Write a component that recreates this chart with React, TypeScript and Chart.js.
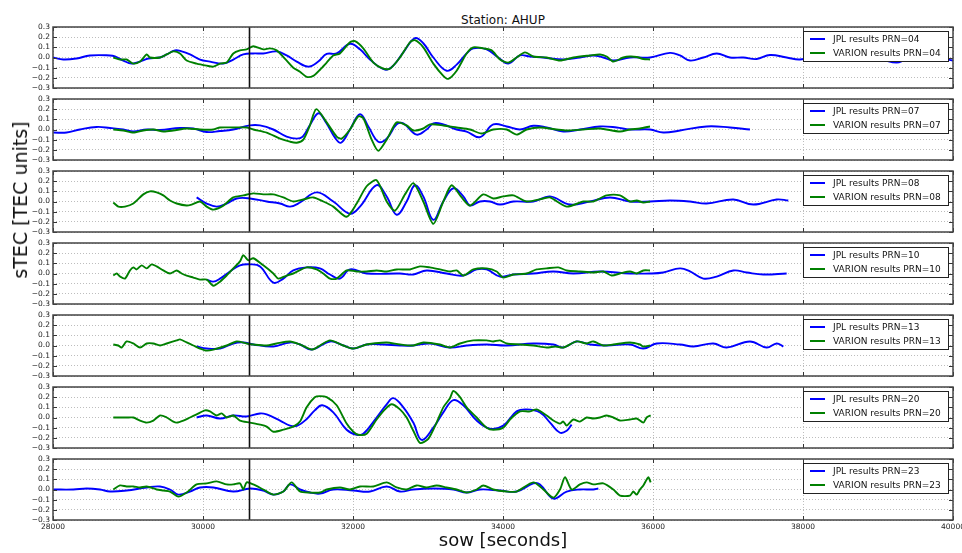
import React, { useEffect, useRef } from 'react';
import { Chart, registerables } from 'chart.js';

Chart.register(...registerables);

// ---------- data ----------
const X_MIN = 28000;
const X_MAX = 40000;
const X_TICKS = [28000, 30000, 32000, 34000, 36000, 38000, 40000];
const Y_TICKS = [-0.3, -0.2, -0.1, 0.0, 0.1, 0.2, 0.3];
const EVENT_TIME = 30620;
const STATION = 'AHUP';
const PRNS = ['04', '07', '08', '10', '13', '20', '23'];

type P = [number, number];

const jpl04: P[] = [[28000,0.0],[28137,-0.02],[28315,-0.01],[28493,0.02],[28760,0.02],[28826,0.01],[28937,-0.03],[29048,-0.06],[29160,-0.04],[29271,-0.01],[29427,0.0],[29516,0.03],[29627,0.07],[29716,0.06],[29827,0.03],[29960,-0.02],[30093,-0.04],[30271,-0.06],[30404,-0.02],[30537,0.03],[30671,0.04],[30804,0.04],[30982,0.06],[31115,0.02],[31249,-0.04],[31404,-0.09],[31537,-0.04],[31649,0.035],[31782,0.04],[31960,0.135],[32093,0.08],[32226,-0.02],[32426,-0.12],[32537,-0.08],[32671,0.05],[32826,0.19],[32937,0.14],[33071,0.0],[33249,-0.13],[33382,-0.07],[33515,0.04],[33604,0.09],[33782,0.08],[33937,0.0],[34071,-0.06],[34226,0.02],[34360,0.01],[34538,0.0],[34804,-0.02],[35026,0.0],[35204,0.02],[35337,0.0],[35471,-0.03],[35693,0.0],[35960,0.0],[36226,0.045],[36360,0.02],[36493,-0.03],[36671,0.0],[36849,0.04],[37026,0.0],[37204,0.0],[37382,-0.015],[37560,0.025],[37782,0.0],[37960,-0.02],[38200,0.02],[38500,-0.01],[38800,0.01],[39050,-0.02],[39248,-0.05],[39382,-0.02],[39693,0.0],[40000,-0.03]];
const varion04: P[] = [[28804,0.0],[28893,-0.02],[28982,-0.02],[29071,-0.06],[29160,-0.04],[29249,0.03],[29293,0.0],[29427,0.0],[29516,0.03],[29604,0.06],[29693,0.04],[29782,-0.03],[29915,-0.06],[30049,-0.08],[30138,-0.09],[30227,-0.06],[30316,-0.05],[30404,0.04],[30493,0.07],[30582,0.08],[30671,0.11],[30804,0.08],[30893,0.09],[30982,0.07],[31116,-0.03],[31204,-0.1],[31293,-0.14],[31382,-0.19],[31471,-0.18],[31560,-0.12],[31649,-0.05],[31737,0.02],[31826,0.04],[31960,0.15],[32026,0.16],[32137,0.09],[32271,-0.05],[32404,-0.11],[32493,-0.11],[32626,0.0],[32760,0.15],[32826,0.17],[32937,0.1],[33071,-0.06],[33204,-0.18],[33271,-0.21],[33382,-0.13],[33515,0.04],[33604,0.1],[33737,0.09],[33849,0.07],[33960,-0.02],[34071,-0.05],[34182,0.0],[34293,0.05],[34404,0.01],[34582,0.0],[34760,-0.03],[34938,0.0],[35160,0.02],[35293,0.03],[35382,0.01],[35471,-0.04],[35604,0.0],[35693,0.01],[35782,0.005],[35871,-0.015],[35960,-0.02]];

const jpl07: P[] = [[28004,-0.03],[28182,-0.03],[28360,0.0],[28582,0.025],[28760,0.015],[28937,0.0],[29071,-0.02],[29249,0.0],[29427,-0.005],[29693,0.015],[29871,0.01],[30049,-0.025],[30227,-0.015],[30404,0.0],[30626,0.04],[30759,0.04],[30937,0.0],[31115,-0.07],[31250,-0.09],[31330,-0.07],[31430,0.05],[31540,0.16],[31640,0.07],[31760,-0.08],[31840,-0.13],[31960,0.0],[32093,0.15],[32204,0.03],[32337,-0.12],[32449,-0.09],[32582,0.05],[32671,0.06],[32849,-0.05],[32982,0.0],[33071,0.06],[33204,0.05],[33382,0.0],[33515,-0.02],[33693,-0.075],[33871,0.05],[34049,0.03],[34226,0.0],[34404,0.037],[34582,0.02],[34804,-0.02],[35026,0.0],[35293,0.03],[35515,0.02],[35693,0.0],[35960,0.0],[36137,-0.03],[36360,-0.01],[36715,0.03],[37026,0.02],[37293,0.0]];
const varion07: P[] = [[28804,0.0],[28937,-0.01],[29071,-0.03],[29204,-0.01],[29338,0.0],[29471,-0.02],[29604,-0.01],[29782,0.01],[29960,0.0],[30138,0.0],[30227,0.02],[30404,0.02],[30582,0.02],[30671,0.0],[30849,-0.03],[31027,-0.09],[31160,-0.12],[31249,-0.13],[31338,-0.1],[31420,0.03],[31510,0.2],[31649,0.07],[31782,-0.07],[31849,-0.09],[31960,0.0],[32071,0.13],[32138,0.11],[32249,-0.1],[32337,-0.21],[32449,-0.1],[32582,0.07],[32715,0.04],[32804,-0.01],[32937,0.01],[33026,0.05],[33204,0.04],[33382,0.02],[33560,0.0],[33715,-0.04],[33871,0.0],[34049,0.0],[34182,-0.05],[34315,0.0],[34493,0.02],[34715,0.0],[34849,-0.01],[35071,0.0],[35293,0.01],[35560,-0.02],[35693,0.0],[35826,0.01],[35960,0.03]];

const jpl08: P[] = [[29915,0.04],[30049,-0.02],[30182,-0.05],[30315,-0.02],[30449,0.03],[30626,0.03],[30849,0.0],[31027,-0.02],[31160,-0.05],[31293,-0.01],[31515,0.09],[31737,0.0],[31960,-0.12],[32093,-0.05],[32315,0.16],[32449,0.05],[32582,-0.13],[32715,0.0],[32826,0.16],[32937,0.05],[33071,-0.18],[33204,0.0],[33338,0.13],[33471,0.05],[33560,-0.04],[33693,0.0],[33826,0.0],[33960,-0.03],[34138,0.0],[34404,0.0],[34626,0.05],[34893,-0.03],[35160,0.0],[35426,0.04],[35693,0.0],[35960,0.0],[36226,0.01],[36493,0.0],[36715,-0.02],[37071,0.02],[37337,-0.03],[37649,0.02],[37804,0.01]];
const varion08: P[] = [[28804,-0.01],[28871,-0.05],[28960,-0.05],[29071,-0.02],[29204,0.07],[29293,0.1],[29382,0.09],[29471,0.06],[29560,0.01],[29649,-0.02],[29782,-0.04],[29849,-0.03],[29960,0.0],[30049,-0.05],[30138,-0.08],[30271,-0.04],[30404,0.04],[30538,0.06],[30671,0.08],[30804,0.07],[30937,0.07],[31071,0.04],[31204,0.0],[31338,0.02],[31471,0.04],[31604,0.0],[31737,-0.05],[31915,-0.15],[32049,-0.02],[32182,0.15],[32315,0.21],[32449,0.0],[32560,-0.09],[32693,0.07],[32804,0.18],[32937,0.0],[33071,-0.22],[33204,0.0],[33315,0.16],[33449,0.04],[33560,-0.04],[33737,0.07],[33871,0.03],[34004,0.05],[34138,0.06],[34315,0.0],[34538,0.03],[34626,0.04],[34849,-0.05],[35071,0.0],[35204,0.0],[35382,0.06],[35560,0.06],[35693,0.0],[35782,0.01],[35871,-0.01],[35960,0.0]];

const jpl10: P[] = [[30049,-0.06],[30138,-0.08],[30227,-0.05],[30360,0.02],[30493,0.08],[30627,0.09],[30760,0.07],[30938,-0.09],[31071,-0.05],[31204,0.03],[31382,0.06],[31560,0.05],[31693,-0.01],[31826,-0.05],[31960,0.04],[32182,0.0],[32626,0.0],[32804,-0.01],[32982,0.03],[33249,0.0],[33471,-0.02],[33649,0.04],[33782,0.04],[33960,-0.03],[34138,-0.01],[34404,0.0],[34671,0.02],[34938,0.0],[35293,0.02],[35693,0.0],[35960,0.0],[36137,0.01],[36360,0.05],[36493,0.02],[36671,-0.05],[36849,-0.03],[37071,0.03],[37249,0.01],[37471,-0.01],[37782,0.0]];
const varion10: P[] = [[28804,-0.02],[28849,0.0],[28893,-0.03],[28960,-0.05],[29026,0.03],[29071,0.06],[29115,0.04],[29182,0.08],[29249,0.05],[29315,0.09],[29382,0.07],[29471,0.03],[29560,0.0],[29649,0.03],[29715,0.0],[29782,-0.02],[29871,-0.04],[29960,-0.06],[30049,-0.06],[30138,-0.12],[30227,-0.08],[30315,-0.02],[30404,0.05],[30493,0.12],[30538,0.18],[30604,0.13],[30671,0.15],[30804,0.08],[30938,0.0],[31004,-0.05],[31116,-0.02],[31204,0.0],[31382,0.06],[31515,0.04],[31604,0.0],[31693,-0.05],[31782,-0.05],[31915,0.03],[32049,0.02],[32182,0.02],[32315,0.03],[32449,0.02],[32582,0.04],[32760,0.04],[32893,0.07],[33026,0.06],[33160,0.04],[33293,0.02],[33382,0.03],[33471,-0.02],[33604,0.04],[33782,0.05],[33915,0.02],[34004,-0.04],[34138,-0.01],[34315,0.0],[34449,0.04],[34582,0.05],[34738,0.06],[34849,0.03],[35026,0.02],[35204,0.01],[35338,0.02],[35449,-0.02],[35560,0.0],[35693,0.02],[35782,0.0],[35871,0.03],[35960,0.03]];

const jpl13: P[] = [[29915,-0.01],[30049,-0.03],[30227,-0.03],[30404,0.02],[30538,0.03],[30671,0.01],[30938,-0.01],[31160,0.03],[31293,0.01],[31450,-0.04],[31693,0.04],[31871,0.0],[32004,-0.03],[32182,0.01],[32404,0.01],[32626,0.0],[32804,0.0],[33026,0.02],[33293,-0.02],[33515,0.0],[33782,0.01],[34049,0.0],[34404,0.02],[34671,0.01],[34804,-0.02],[34982,0.04],[35160,0.01],[35382,0.0],[35693,0.01],[35871,-0.03],[36049,0.02],[36360,0.01],[36538,-0.01],[36804,0.02],[36982,-0.02],[37293,0.04],[37515,-0.02],[37649,0.02],[37738,-0.01]];
const varion13: P[] = [[28804,0.01],[28871,0.0],[28915,-0.02],[28982,0.04],[29071,0.02],[29160,-0.02],[29249,0.02],[29338,0.02],[29427,0.0],[29516,0.02],[29649,0.05],[29693,0.06],[29782,0.03],[29871,0.0],[29960,-0.03],[30049,-0.05],[30138,-0.04],[30316,0.0],[30449,0.04],[30582,0.02],[30671,0.01],[30849,0.0],[30982,0.02],[31160,0.04],[31293,0.01],[31450,-0.04],[31560,0.0],[31693,0.05],[31871,0.0],[32004,-0.03],[32182,0.01],[32270,0.02],[32449,0.03],[32626,0.01],[32804,0.0],[32937,0.03],[33160,0.01],[33293,-0.02],[33427,0.02],[33604,0.05],[33782,0.05],[33870,0.04],[33960,0.05],[34049,0.02],[34227,0.01],[34404,0.0],[34582,-0.02],[34700,-0.01],[34804,-0.02],[34982,0.04],[35115,0.02],[35204,0.04],[35338,0.0],[35471,0.01],[35693,0.03],[35826,0.01],[35871,-0.01],[35960,0.0]];

const jpl20: P[] = [[29915,0.0],[30049,0.02],[30227,-0.01],[30404,0.02],[30582,0.01],[30760,0.04],[30849,0.03],[31027,-0.03],[31160,-0.08],[31260,-0.08],[31390,-0.01],[31490,0.07],[31590,0.12],[31737,0.05],[31915,-0.12],[32049,-0.17],[32138,-0.16],[32315,0.0],[32449,0.13],[32538,0.19],[32671,0.1],[32804,-0.05],[32915,-0.22],[33071,-0.1],[33204,0.05],[33338,0.17],[33471,0.12],[33649,-0.03],[33826,-0.11],[34004,-0.08],[34182,0.06],[34315,0.08],[34493,0.05],[34627,-0.05],[34760,-0.15],[34849,-0.13],[34915,-0.07]];
const varion20: P[] = [[28804,0.0],[28982,0.0],[29071,0.0],[29160,-0.03],[29249,-0.05],[29338,-0.03],[29427,0.02],[29516,0.0],[29604,-0.04],[29649,-0.05],[29738,-0.03],[29827,0.0],[29915,0.03],[30027,0.07],[30093,0.06],[30182,0.02],[30249,0.04],[30316,0.0],[30404,0.02],[30493,-0.03],[30627,-0.05],[30760,-0.07],[30849,-0.09],[30938,-0.14],[31071,-0.12],[31204,-0.09],[31293,-0.04],[31382,0.1],[31490,0.2],[31560,0.21],[31649,0.2],[31782,0.12],[31915,-0.06],[32004,-0.14],[32071,-0.17],[32182,-0.16],[32315,-0.02],[32427,0.08],[32515,0.13],[32626,0.08],[32715,0.0],[32804,-0.13],[32893,-0.25],[33004,-0.21],[33115,-0.05],[33204,0.1],[33293,0.19],[33338,0.26],[33427,0.2],[33515,0.1],[33649,0.0],[33782,-0.1],[33871,-0.12],[34004,-0.1],[34093,-0.02],[34227,0.06],[34360,0.06],[34449,0.08],[34582,0.02],[34671,-0.03],[34760,-0.06],[34804,-0.04],[34849,-0.08],[34938,-0.02],[35026,-0.04],[35115,0.0],[35204,-0.01],[35293,0.0],[35382,0.02],[35471,0.0],[35560,-0.03],[35693,-0.02],[35782,-0.01],[35871,-0.05],[35915,0.0],[35969,0.02]];

const jpl23: P[] = [[28004,0.0],[28271,0.0],[28449,0.01],[28626,0.0],[28760,-0.02],[28982,-0.01],[29249,0.02],[29427,0.03],[29560,0.0],[29671,-0.05],[29827,-0.02],[29960,0.02],[30138,0.02],[30404,-0.02],[30627,0.01],[30804,-0.01],[30938,-0.05],[31071,-0.02],[31160,0.05],[31293,0.0],[31427,-0.03],[31560,-0.04],[31737,0.0],[32004,-0.01],[32227,-0.02],[32449,0.03],[32626,-0.02],[32804,0.0],[33071,0.01],[33338,0.0],[33515,-0.03],[33693,0.0],[33960,-0.01],[34182,-0.02],[34404,0.06],[34493,0.05],[34671,-0.09],[34849,-0.02],[35026,0.0],[35204,0.0],[35271,0.01]];
const varion23: P[] = [[28804,0.0],[28893,0.04],[28982,0.03],[29071,0.03],[29160,0.02],[29249,0.03],[29382,0.0],[29471,-0.01],[29560,-0.02],[29671,-0.07],[29782,-0.03],[29915,0.05],[30049,0.06],[30182,0.08],[30316,0.05],[30404,0.05],[30493,0.06],[30538,0.0],[30582,0.07],[30671,0.05],[30804,0.0],[30938,-0.05],[31071,-0.02],[31182,0.07],[31293,-0.02],[31427,-0.03],[31560,-0.03],[31649,0.0],[31826,0.02],[31960,0.0],[32093,0.03],[32271,0.03],[32449,0.07],[32582,0.02],[32715,0.0],[32849,0.04],[32982,0.02],[33115,0.04],[33249,0.02],[33382,0.0],[33515,-0.03],[33649,0.0],[33737,0.04],[33871,0.0],[34049,-0.02],[34182,-0.02],[34404,0.07],[34538,0.0],[34671,-0.08],[34760,0.0],[34827,0.12],[34915,0.0],[35026,0.05],[35115,0.07],[35204,0.05],[35338,0.06],[35471,0.0],[35560,-0.06],[35693,-0.06],[35737,-0.02],[35782,-0.05],[35826,0.0],[35871,0.04],[35937,0.12],[35969,0.07]];

const JPL_SERIES = [jpl04, jpl07, jpl08, jpl10, jpl13, jpl20, jpl23];
const VARION_SERIES = [varion04, varion07, varion08, varion10, varion13, varion20, varion23];

// ---------- layout / style ----------
const W = 962;
const PLOT_LEFT = 53;
const PLOT_RIGHT = 953;
const PANEL_TOPS = [27, 99, 171, 243, 315, 387, 459];
const PANEL_H = 61;
const PAD_T = 6;
const PAD_B = 6;
const XAXIS_H = 14;
const FONT = '"DejaVu Sans", "Bitstream Vera Sans", sans-serif';
const BLUE = '#0000ff';
const GREEN = '#008000';

const fmtY = (v: number) => {
  if (Math.abs(v) < 1e-9) return '0.0';
  return (v < 0 ? '\u2212' : '') + Math.abs(v).toFixed(1);
};

const framePlugin = {
  id: 'mplFrame',
  afterDraw(chart: any) {
    const { ctx, chartArea } = chart;
    const { left, right, top, bottom } = chartArea;
    const xs = chart.scales.x;
    const ys = chart.scales.y;
    ctx.save();
    // inner tick marks
    ctx.strokeStyle = '#333';
    ctx.lineWidth = 1;
    ctx.beginPath();
    Y_TICKS.forEach((v) => {
      const py = Math.round(ys.getPixelForValue(v)) + 0.5;
      ctx.moveTo(left, py); ctx.lineTo(left + 4, py);
      ctx.moveTo(right - 4, py); ctx.lineTo(right, py);
    });
    X_TICKS.forEach((v) => {
      const px = Math.round(xs.getPixelForValue(v)) + 0.5;
      ctx.moveTo(px, top); ctx.lineTo(px, top + 4);
      ctx.moveTo(px, bottom - 4); ctx.lineTo(px, bottom);
    });
    ctx.stroke();
    // frame
    ctx.strokeStyle = '#444';
    ctx.lineWidth = 1.5;
    ctx.strokeRect(left, top, right - left, bottom - top);
    // legend
    const items = chart.data.datasets.filter((d: any) => d.label);
    const bw = 145, bh = 30;
    const bx = right - 5 - bw;
    const by = top + 4;
    ctx.fillStyle = '#fff';
    ctx.fillRect(bx, by, bw, bh);
    ctx.strokeStyle = '#222';
    ctx.lineWidth = 1;
    ctx.strokeRect(bx + 0.5, by + 0.5, bw, bh);
    ctx.font = '9px ' + FONT;
    ctx.textBaseline = 'middle';
    ctx.textAlign = 'left';
    items.forEach((d: any, i: number) => {
      const ly = by + 8 + i * 14;
      ctx.strokeStyle = d.borderColor;
      ctx.lineWidth = 2;
      ctx.beginPath();
      ctx.moveTo(bx + 7, ly); ctx.lineTo(bx + 22, ly);
      ctx.stroke();
      ctx.fillStyle = '#111';
      ctx.fillText(d.label, bx + 30, ly + 0.5);
    });
    ctx.restore();
  },
};

function makeConfig(i: number): any {
  const isLast = i === PRNS.length - 1;
  const prn = PRNS[i];
  return {
    type: 'line',
    data: {
      datasets: [
        {
          label: '',
          data: [{ x: EVENT_TIME, y: -0.3 }, { x: EVENT_TIME, y: 0.3 }],
          borderColor: '#111',
          borderWidth: 1.6,
          pointRadius: 0,
          tension: 0,
          order: 0,
          clip: 0,
        },
        {
          label: 'JPL results PRN=' + prn,
          data: JPL_SERIES[i].map(([x, y]) => ({ x, y })),
          borderColor: BLUE,
          borderWidth: 1.9,
          pointRadius: 0,
          tension: 0.4,
          order: 2,
          clip: 0,
        },
        {
          label: 'VARION results PRN=' + prn,
          data: VARION_SERIES[i].map(([x, y]) => ({ x, y })),
          borderColor: GREEN,
          borderWidth: 1.9,
          pointRadius: 0,
          tension: 0.25,
          order: 1,
          clip: 0,
        },
      ],
    },
    options: {
      responsive: false,
      maintainAspectRatio: false,
      animation: false,
      devicePixelRatio: 1,
      events: [],
      layout: { padding: { left: 0, right: W - PLOT_RIGHT, top: PAD_T, bottom: isLast ? 0 : PAD_B } },
      plugins: { legend: { display: false }, tooltip: { enabled: false }, title: { display: false } },
      scales: {
        x: {
          type: 'linear',
          min: X_MIN,
          max: X_MAX,
          afterBuildTicks: (s: any) => { s.ticks = X_TICKS.map((v) => ({ value: v })); },
          ticks: {
            display: isLast,
            autoSkip: false,
            maxRotation: 0,
            padding: 3,
            color: '#222',
            font: { family: FONT, size: 7.5 },
            callback: (v: any) => String(v),
          },
          grid: { color: 'rgba(0,0,0,0.33)', lineWidth: 0.8, drawTicks: false },
          border: { display: false, dash: [1, 2] },
          afterFit: (s: any) => {
            s.height = isLast ? XAXIS_H : 0;
            s.paddingLeft = 0;
            s.paddingRight = 0;
          },
        },
        y: {
          min: -0.3,
          max: 0.3,
          afterBuildTicks: (s: any) => { s.ticks = Y_TICKS.map((v) => ({ value: v })); },
          ticks: {
            autoSkip: false,
            padding: 3,
            color: '#222',
            font: { family: FONT, size: 7.5 },
            callback: (v: any) => fmtY(Number(v)),
          },
          grid: { color: 'rgba(0,0,0,0.33)', lineWidth: 0.8, drawTicks: false },
          border: { display: false, dash: [1, 2] },
          afterFit: (s: any) => {
            s.width = PLOT_LEFT;
            s.paddingTop = 0;
            s.paddingBottom = 0;
          },
        },
      },
    },
    plugins: [framePlugin],
  };
}

export default function App() {
  const refs = useRef<(HTMLCanvasElement | null)[]>([]);

  useEffect(() => {
    const charts: Chart[] = [];
    PRNS.forEach((_, i) => {
      const c = refs.current[i];
      if (c) charts.push(new Chart(c, makeConfig(i)));
    });
    return () => charts.forEach((ch) => ch.destroy());
  }, []);

  return (
    <div style={{ position: 'fixed', left: 0, top: 0, width: W, height: 553, background: '#fff', overflow: 'hidden', fontFamily: FONT }}>
      <div style={{ position: 'absolute', left: (PLOT_LEFT + PLOT_RIGHT) / 2, top: 13, transform: 'translateX(-50%)', fontSize: 12, lineHeight: '14px', whiteSpace: 'nowrap', color: '#111' }}>
        {'Station: ' + STATION}
      </div>
      {PRNS.map((p, i) => {
        const isLast = i === PRNS.length - 1;
        const h = PAD_T + PANEL_H + (isLast ? XAXIS_H : PAD_B);
        return (
          <canvas
            key={p}
            ref={(el) => { refs.current[i] = el; }}
            width={W}
            height={h}
            style={{ position: 'absolute', left: 0, top: PANEL_TOPS[i] - PAD_T, width: W, height: h }}
          />
        );
      })}
      <div style={{ position: 'absolute', left: 20, top: 200, transform: 'translate(-50%, -50%) rotate(-90deg)', fontSize: 19, lineHeight: '22px', whiteSpace: 'nowrap', color: '#111' }}>
        sTEC [TEC units]
      </div>
      <div style={{ position: 'absolute', left: (PLOT_LEFT + PLOT_RIGHT) / 2, top: 540, transform: 'translate(-50%, -50%)', fontSize: 18, lineHeight: '20px', whiteSpace: 'nowrap', color: '#111' }}>
        sow [seconds]
      </div>
    </div>
  );
}
